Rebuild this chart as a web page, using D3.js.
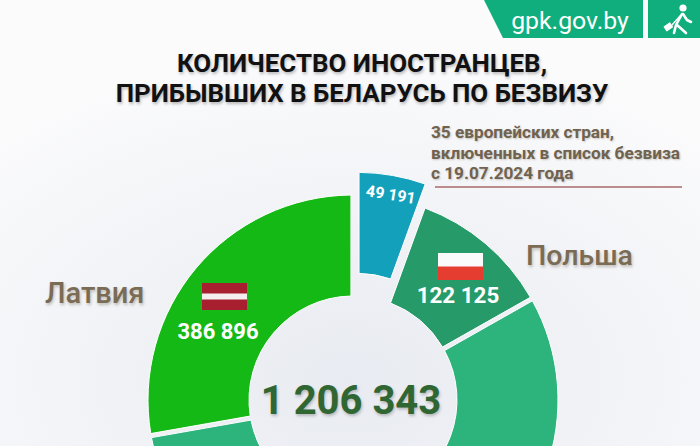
<!DOCTYPE html>
<html><head><meta charset="utf-8">
<script src="https://cdn.jsdelivr.net/npm/d3@7"></script>
<style>
html,body{margin:0;padding:0;background:#f4f5f8}
svg{display:block}
text{font-family:Roboto,"Noto Sans",sans-serif}
</style></head><body><svg id="c" width="700" height="446"></svg>
<script>
const categories = ["Иностранцы (прочие)", "Польша", "Литва", "Другие", "Латвия"];
const values = [49191, 122125, 324066, 324065, 386896];
const colors = ["#13a0bb", "#269a68", "#2db37c", "#2db37c", "#15b915"];
const valueLabels = ["49 191", "122 125", "", "", "386 896"];
const totalLabel = "1 206 343";
const titleLines = ["КОЛИЧЕСТВО ИНОСТРАНЦЕВ,", "ПРИБЫВШИХ В БЕЛАРУСЬ ПО БЕЗВИЗУ"];
const noteLines = ["35 европейских стран,", "включенных в список безвиза", "с 19.07.2024 года"];
const siteLabel = "gpk.gov.by";

const W = 700, H = 446, cx = 353, cy = 400, R = 205, r = 104;
const svg = d3.select("#c");
const defs = svg.append("defs");
const g = defs.append("radialGradient").attr("id","bg").attr("cx","50%").attr("cy","85%").attr("r","75%");
g.append("stop").attr("offset","0%").attr("stop-color","#e8ebf1");
g.append("stop").attr("offset","100%").attr("stop-color","#fbfbfc");
svg.append("rect").attr("width",W).attr("height",H).attr("fill","url(#bg)");

// Header
svg.append("path").attr("d","M484,0L503,38H643V0Z").attr("fill","#0fae7c");
svg.append("rect").attr("x",648).attr("y",0).attr("width",52).attr("height",38).attr("fill","#0fae7c");
svg.append("text").attr("x",570).attr("y",29).attr("text-anchor","middle").attr("font-size",24.8).attr("fill","#fff").text(siteLabel);
const ic = svg.append("g").attr("fill","none").attr("stroke","#fff").attr("stroke-width",2.6).attr("stroke-linecap","round").attr("stroke-linejoin","round");
svg.append("circle").attr("cx",683).attr("cy",8).attr("r",3.6).attr("fill","#fff");
ic.append("path").attr("d","M682,14L676,25L674,33");
ic.append("path").attr("d","M677,25L686,33");
ic.append("path").attr("d","M683,14L687,20L691,22");
ic.append("path").attr("d","M680,16L672,25").attr("stroke-width",1.4);
ic.append("rect").attr("x",665).attr("y",24).attr("width",7).attr("height",5).attr("fill","#fff").attr("stroke-width",1).attr("transform","rotate(-35 669 27)");

// Title
const tshadow = "1px 2px 3px rgba(60,60,60,.35)";
svg.append("g").selectAll("text").data(titleLines).join("text")
  .attr("x",362).attr("y",(d,i)=>72+i*30)
  .attr("text-anchor","middle").attr("font-size",25.9).attr("font-weight",700).attr("fill","#111")
  .style("text-shadow",tshadow).text(d=>d);

// Note
svg.append("g").selectAll("text").data(noteLines).join("text")
  .attr("x",431).attr("y",(d,i)=>138+i*20.7)
  .attr("font-size",17.2).attr("font-weight",700).attr("fill","#6f6250")
  .style("text-shadow","1px 1px 2px rgba(90,80,60,.3)").text(d=>d);
svg.append("line").attr("x1",435).attr("x2",682).attr("y1",187).attr("y2",187).attr("stroke","#a86a6a").attr("stroke-width",1.4);

// Donut
const angleScale = d3.scaleLinear().domain([49191,122125,324065,386896]).range([20,40.5,99.75,100]);
const pie = d3.pie().value(d=>angleScale(d)).sort(null).startAngle(0).endAngle(2*Math.PI);
const arcs = pie(values);
const arc = d3.arc().innerRadius(r).outerRadius(R).padRadius(R).padAngle(0.02);
const explode = 23;
const donut = svg.append("g").attr("transform",`translate(${cx},${cy})`);
donut.selectAll("path").data(arcs).join("path")
  .attr("d",arc).attr("fill",(d,i)=>colors[i])
  .attr("stroke","#fff").attr("stroke-width",1)
  .attr("transform",(d,i)=>{
    if(i!==0) return null;
    const a=(d.startAngle+d.endAngle)/2;
    return `translate(${explode*Math.sin(a)},${-explode*Math.cos(a)})`;
  });

// Flags
svg.append("rect").attr("x",202).attr("y",283).attr("width",45).attr("height",27).attr("fill","#a8202f");
svg.append("rect").attr("x",202).attr("y",293.5).attr("width",45).attr("height",6).attr("fill","#f4eeee");
svg.append("rect").attr("x",438).attr("y",253).attr("width",45).attr("height",14).attr("fill","#fafafa");
svg.append("rect").attr("x",438).attr("y",266.5).attr("width",45).attr("height",13.5).attr("fill","#e53d30");

// Labels
svg.append("text").attr("x",218).attr("y",338.5).attr("text-anchor","middle").attr("font-size",22).attr("font-weight",700).attr("fill","#fff").text(valueLabels[4]);
svg.append("text").attr("x",458).attr("y",303).attr("text-anchor","middle").attr("font-size",22.4).attr("font-weight",700).attr("fill","#fff").text(valueLabels[1]);
svg.append("text").attr("transform","translate(390,200) rotate(9)").attr("text-anchor","middle").attr("font-size",16).attr("font-weight",700).attr("fill","#fff").text(valueLabels[0]);
svg.append("text").attr("x",351).attr("y",414).attr("text-anchor","middle").attr("font-size",40).attr("font-weight",700).attr("fill","#2f6632").style("text-shadow","1px 2px 3px rgba(60,60,60,.3)").text(totalLabel);
const nameShadow="1px 2px 3px rgba(90,80,60,.35)";
svg.append("text").attr("x",45).attr("y",303).attr("font-size",29).attr("font-weight",500).attr("fill","#7a6b55").style("text-shadow",nameShadow).text(categories[4]);
svg.append("text").attr("x",526).attr("y",265).attr("font-size",28.5).attr("font-weight",500).attr("fill","#7a6b55").style("text-shadow",nameShadow).text(categories[1]);
</script></body></html>
